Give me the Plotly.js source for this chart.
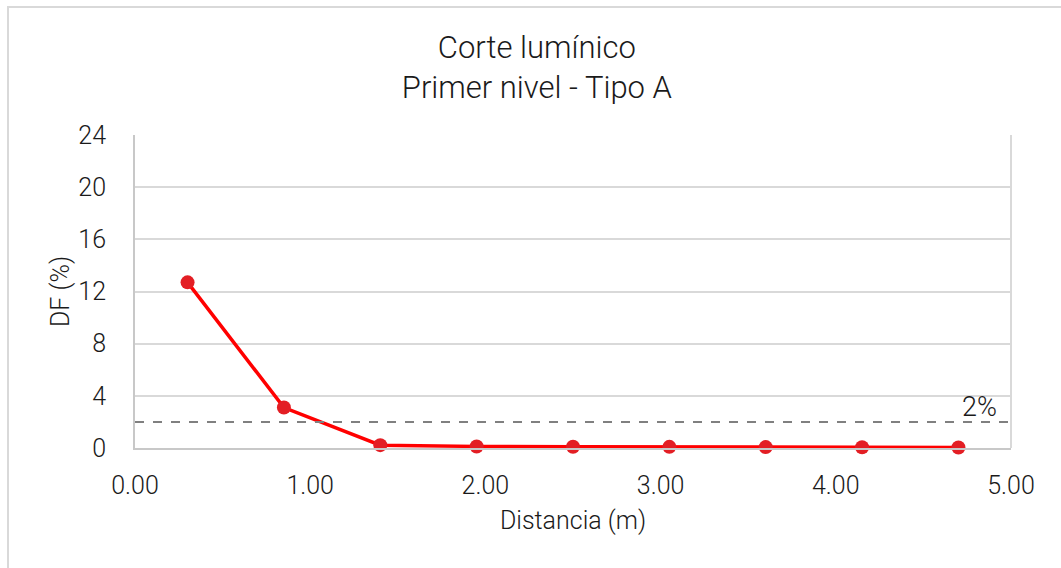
<!DOCTYPE html>
<html><head><meta charset="utf-8">
<script src="https://cdn.plot.ly/plotly-3.0.1.min.js"></script>
<style>
html,body{margin:0;padding:0;background:#fff;}
#wrap{position:relative;width:1061px;height:568px;}
#chart{width:1061px;height:568px;}
#frame{position:absolute;left:7px;top:6px;width:1060px;height:570px;border-left:2px solid #d9d9d9;border-top:2px solid #d9d9d9;pointer-events:none;}
</style></head>
<body><div id="wrap"><div id="chart"></div><div id="frame"></div></div>
<script>
const distance = [0.30, 0.85, 1.40, 1.95, 2.50, 3.05, 3.60, 4.15, 4.70];
const dfValues = [12.7, 3.1, 0.22, 0.12, 0.10, 0.09, 0.07, 0.06, 0.04];
const threshold = 2;
const xTicks = [0, 1, 2, 3, 4, 5];
const xTickLabels = ["0.00", "1.00", "2.00", "3.00", "4.00", "5.00"];
const yTicks = [0, 4, 8, 12, 16, 20, 24];

const fontFam = "Roboto, 'Liberation Sans', sans-serif";
const traces = [
  {x: distance, y: dfValues, type: 'scatter', mode: 'lines+markers',
   line: {color: '#ff0000', width: 3.5},
   marker: {color: '#e31e24', size: 14},
   cliponaxis: false, showlegend: false}
];
const layout = {
  width: 1061, height: 568,
  margin: {l: 135, r: 50, t: 135, b: 120},
  paper_bgcolor: '#fff', plot_bgcolor: '#fff',
  font: {family: fontFam, color: '#1a1a1a', size: 25, weight: 300},
  title: {text: 'Corte lumínico<br>Primer nivel - Tipo A', x: 0.506, xanchor: 'center', y: 0.898, yanchor: 'top',
          font: {size: 31, family: fontFam, weight: 300, color: '#1a1a1a'}},
  xaxis: {range: [0, 5], tickvals: xTicks, ticktext: xTickLabels, showgrid: false, zeroline: false,
          showline: true, linecolor: '#c8c8c8', linewidth: 2, ticks: '', ticklen: 0, ticklabelstandoff: 14,
          tickfont: {size: 25, family: fontFam, weight: 300},
          title: {text: 'Distancia (m)', standoff: 12, font: {size: 25, family: fontFam, weight: 300}}},
  yaxis: {range: [0, 24], tickvals: yTicks, showgrid: true, gridcolor: '#d9d9d9', gridwidth: 2, zeroline: false,
          showline: true, linecolor: '#c8c8c8', linewidth: 2, ticks: '', ticklabelstandoff: 22,
          tickfont: {size: 25, family: fontFam, weight: 300},
          title: {text: 'DF (%)', standoff: 2, font: {size: 25, family: fontFam, weight: 300}}},
  shapes: [
    {type: 'line', xref: 'paper', x0: 0, x1: 1, yref: 'y', y0: threshold, y1: threshold,
     line: {color: '#808080', width: 2, dash: 'dash'}},
    {type: 'line', xref: 'paper', x0: 1, x1: 1, yref: 'y', y0: 0, y1: 24,
     line: {color: '#d9d9d9', width: 2}}
  ],
  annotations: [
    {xref: 'x', yref: 'y', x: 4.82, y: threshold, yanchor: 'bottom', xanchor: 'center', yshift: -3,
     text: threshold + '%', showarrow: false, font: {size: 27, family: fontFam, weight: 300, color: '#1a1a1a'}}
  ]
};
Plotly.newPlot('chart', traces, layout, {displayModeBar: false, staticPlot: true});
</script></body></html>
